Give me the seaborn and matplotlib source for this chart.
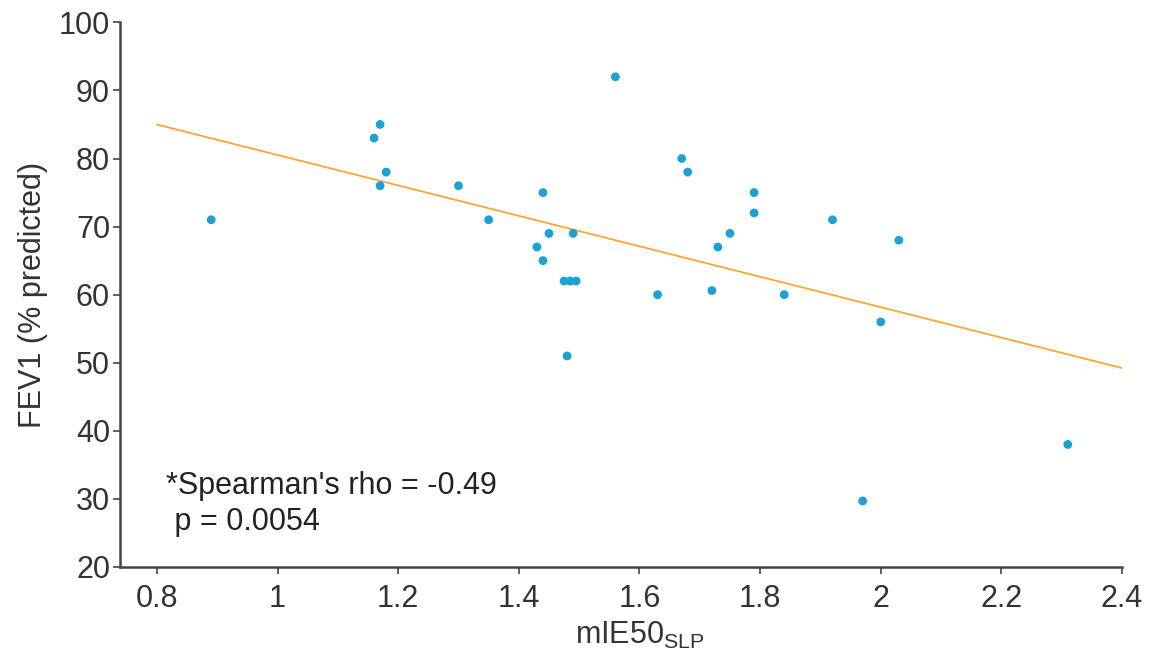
import numpy as np
import pandas as pd
import matplotlib
matplotlib.use('Agg')
import matplotlib.pyplot as plt
import seaborn as sns

# 데이터
mie50 = [0.89, 1.16, 1.17, 1.18, 1.17, 1.30, 1.35, 1.44, 1.45, 1.43, 1.44,
         1.475, 1.485, 1.495, 1.49, 1.56, 1.67, 1.68, 1.79, 1.79, 1.75, 1.73,
         1.92, 2.03, 1.63, 1.72, 1.84, 2.00, 1.48, 1.97, 2.31]
fev1 = [71, 83, 85, 78, 76, 76, 71, 75, 69, 67, 65,
        62, 62, 62, 69, 92, 80, 78, 75, 72, 69, 67,
        71, 68, 60, 60.6, 60, 56, 51, 29.7, 38]
x_ticks = [0.8, 1, 1.2, 1.4, 1.6, 1.8, 2, 2.2, 2.4]
x_tick_labels = ['0.8', '1', '1.2', '1.4', '1.6', '1.8', '2', '2.2', '2.4']
y_ticks = [20, 30, 40, 50, 60, 70, 80, 90, 100]

df = pd.DataFrame({'mIE50': mie50, 'FEV1': fev1})

# 회귀 직선 (0.8 ~ 2.4 구간)
slope, intercept = np.polyfit(df['mIE50'], df['FEV1'], 1)
fit = pd.DataFrame({'x': [x_ticks[0], x_ticks[-1]]})
fit['y'] = intercept + slope * fit['x']

sns.set_style('ticks')
plt.rcParams['font.family'] = ['Liberation Sans', 'DejaVu Sans']

fig = plt.figure(figsize=(11.52, 6.57), dpi=100)
ax = fig.add_axes([0.104, 0.137, 0.870, 0.829])

sns.lineplot(x='x', y='y', data=fit, color='#F5A833', lw=1.3, ax=ax)
sns.scatterplot(x='mIE50', y='FEV1', data=df, color='#1BA1D3', s=40,
                edgecolor='none', ax=ax, zorder=3)

ax.set_xlim(0.7385, 2.4)
ax.set_ylim(20, 100)
ax.set_xticks(x_ticks)
ax.set_xticklabels(x_tick_labels)
ax.set_yticks(y_ticks)

spine_col = '#444444'
for s in ['left', 'bottom']:
    ax.spines[s].set_color(spine_col)
    ax.spines[s].set_linewidth(1.8)
sns.despine(ax=ax)
ax.tick_params(axis='both', labelsize=22, labelcolor='#333333', length=5,
               width=1.2, direction='out', color=spine_col)
ax.tick_params(axis='x', pad=7)
ax.tick_params(axis='y', pad=2)

ax.set_xlabel('mIE50$_{\\mathregular{SLP}}$', fontsize=22, color='#333333')
ax.set_ylabel('FEV1 (% predicted)', fontsize=22, color='#333333')
ax.xaxis.set_label_coords(0.519, -0.098)
ax.yaxis.set_label_coords(-0.072, 0.5)

ax.text(0.046, 0.176, "*Spearman's rho = -0.49\n p = 0.0054",
        transform=ax.transAxes, fontsize=22, color='#222222',
        ha='left', va='top', linespacing=1.25)

fig.savefig('out.png', dpi=100)
